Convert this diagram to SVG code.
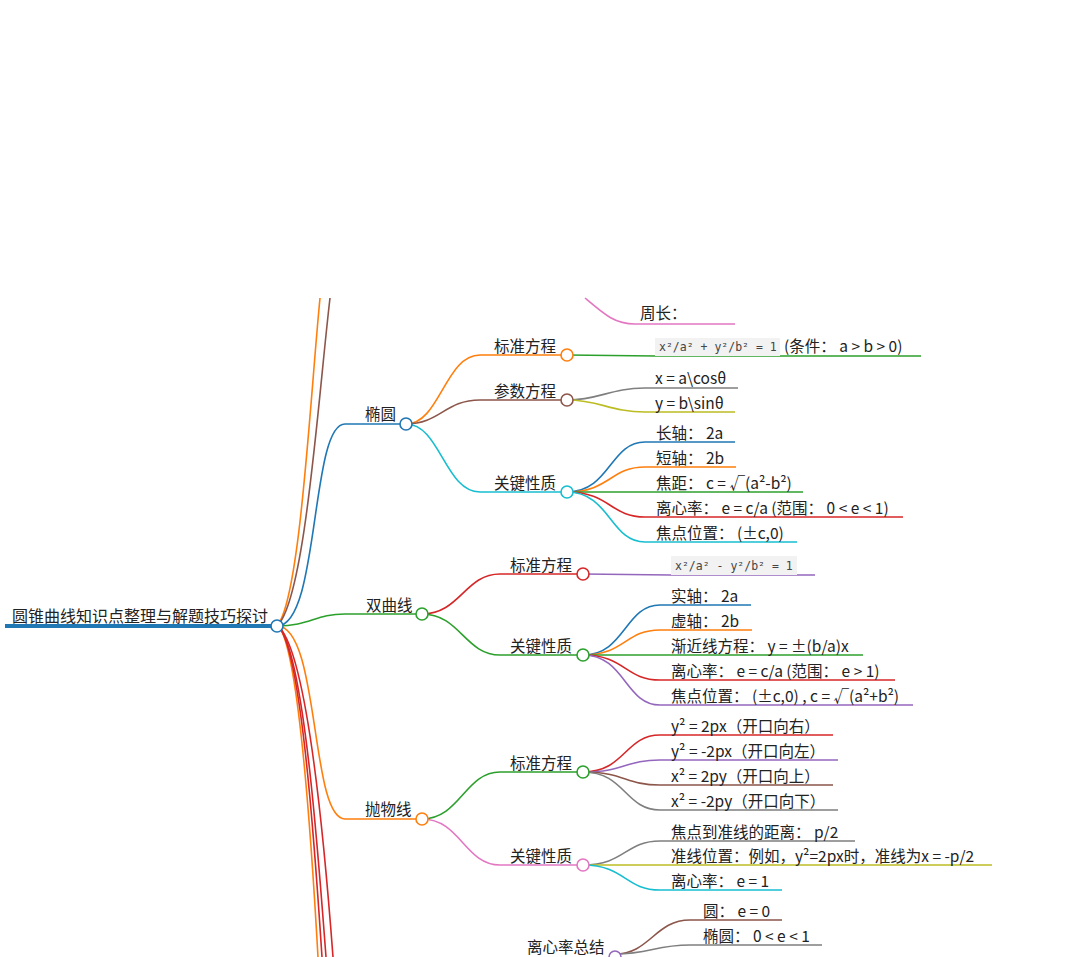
<svg xmlns="http://www.w3.org/2000/svg" width="1077" height="957" viewBox="0 0 1077 957">
<style>
text{font-family:"Noto Sans CJK SC","Noto Sans",sans-serif;font-size:15.5px;fill:#222}
.m{font-family:"DejaVu Sans Mono","Liberation Mono",monospace;font-size:11.5px;fill:#444}
path{fill:none;stroke-width:1.6}
circle{fill:#fff;stroke-width:1.6}
.cb{fill:#f2f2f2}
</style>
<rect width="1077" height="957" fill="#fff"/>
<g id="connectors">
<path d="M5 626H277" stroke="#1f77b4" style="stroke-width:4"/>
<path d="M277 626C300 600 310 400 320 298" stroke="#ff7f0e"/>
<path d="M277 626C305 600 318 400 330 298" stroke="#8c564b"/>
<path d="M585 298C605 315 615 324 635 324H735" stroke="#e377c2"/>
<path d="M277 626C320 626 310 424 345 424H406" stroke="#1f77b4"/>
<path d="M406 424C440 424 445 355 480 355H567" stroke="#ff7f0e"/>
<path d="M406 424C440 424 445 400 480 400H567" stroke="#8c564b"/>
<path d="M406 424C440 424 445 492 480 492H567" stroke="#17becf"/>
<path d="M567 355L655 356H921" stroke="#2ca02c"/>
<path d="M567 400C600 400 610 388 645 388H738" stroke="#7f7f7f"/>
<path d="M567 400C600 400 610 412 645 412H735" stroke="#bcbd22"/>
<path d="M567 492C610 492 610 442 645 442H735" stroke="#1f77b4"/>
<path d="M567 492C610 492 610 467 645 467H736" stroke="#ff7f0e"/>
<path d="M567 492H803" stroke="#2ca02c"/>
<path d="M567 492C610 492 610 517 645 517H903" stroke="#d62728"/>
<path d="M567 492C610 492 610 542 645 542H797" stroke="#17becf"/>
<path d="M277 626C310 626 315 614 345 614H422" stroke="#2ca02c"/>
<path d="M422 614C460 614 465 574 500 574H583" stroke="#d62728"/>
<path d="M422 614C460 614 465 655 500 655H583" stroke="#2ca02c"/>
<path d="M583 574L671 575H815" stroke="#9467bd"/>
<path d="M583 655C625 655 625 605 660 605H751" stroke="#1f77b4"/>
<path d="M583 655C625 655 625 630 660 630H752" stroke="#ff7f0e"/>
<path d="M583 655H863" stroke="#2ca02c"/>
<path d="M583 655C625 655 625 680 660 680H895" stroke="#d62728"/>
<path d="M583 655C625 655 625 705 660 705H913" stroke="#9467bd"/>
<path d="M277 626C320 626 310 819 345 819H422" stroke="#ff7f0e"/>
<path d="M422 819C460 819 465 772 500 772H583" stroke="#2ca02c"/>
<path d="M422 819C460 819 465 865 500 865H583" stroke="#e377c2"/>
<path d="M583 772C625 772 625 735 660 735H833" stroke="#d62728"/>
<path d="M583 772C625 772 625 760 660 760H838" stroke="#9467bd"/>
<path d="M583 772C625 772 625 785 660 785H833" stroke="#8c564b"/>
<path d="M583 772C625 772 625 810 660 810H838" stroke="#7f7f7f"/>
<path d="M583 865C625 865 625 841 660 841H855" stroke="#7f7f7f"/>
<path d="M583 865H992" stroke="#bcbd22"/>
<path d="M583 865C625 865 625 890 660 890H782" stroke="#17becf"/>
<path d="M615 954C650 954 655 920 690 920H782" stroke="#8c564b"/>
<path d="M615 954C650 954 655 945 690 945H822" stroke="#7f7f7f"/>
<path d="M280 628C300 660 312 850 318 957" stroke="#ff7f0e"/>
<path d="M280 628C302 660 315 850 322 957" stroke="#d62728"/>
<path d="M280 628C304 660 318 850 326 957" stroke="#d62728"/>
<path d="M280 628C308 660 325 850 333 957" stroke="#d62728"/>
</g>
<g id="root"><text x="12" y="622" style="font-size:16px">圆锥曲线知识点整理与解题技巧探讨</text><circle cx="277" cy="626" r="6" stroke="#1f77b4"/></g>
<g id="top-leaf"><text x="640" y="319">周长：</text></g>
<g id="ellipse"><text x="365" y="420">椭圆</text><circle cx="406" cy="424" r="6" stroke="#1f77b4"/></g>
<g id="e-std"><text x="494" y="352">标准方程</text><circle cx="567" cy="355" r="6" stroke="#ff7f0e"/></g>
<g id="e-std-l"><rect class="cb" x="655" y="338" width="125" height="18"/><text class="m" x="659" y="351">x²/a² + y²/b² = 1</text><text x="784" y="352">(条件： a &gt; b &gt; 0)</text></g>
<g id="e-par"><text x="494" y="397">参数方程</text><circle cx="567" cy="400" r="6" stroke="#8c564b"/></g>
<g id="e-par-1"><text x="655" y="384">x = a\cosθ</text></g>
<g id="e-par-2"><text x="655" y="409">y = b\sinθ</text></g>
<g id="e-key"><text x="494" y="489">关键性质</text><circle cx="567" cy="492" r="6" stroke="#17becf"/></g>
<g id="e-k1"><text x="656" y="439">长轴： 2a</text></g>
<g id="e-k2"><text x="656" y="464">短轴： 2b</text></g>
<g id="e-k3"><text x="656" y="489">焦距： c = √(a²-b²)</text></g>
<g id="e-k4"><text x="656" y="514">离心率： e = c/a (范围： 0 &lt; e &lt; 1)</text></g>
<g id="e-k5"><text x="656" y="539">焦点位置： (±c,0)</text></g>
<g id="hyper"><text x="366" y="611">双曲线</text><circle cx="422" cy="614" r="6" stroke="#2ca02c"/></g>
<g id="h-std"><text x="510" y="571">标准方程</text><circle cx="583" cy="574" r="6" stroke="#d62728"/></g>
<g id="h-std-l"><rect class="cb" x="671" y="556" width="126" height="19"/><text class="m" x="675" y="570">x²/a² - y²/b² = 1</text></g>
<g id="h-key"><text x="510" y="652">关键性质</text><circle cx="583" cy="655" r="6" stroke="#2ca02c"/></g>
<g id="h-k1"><text x="671" y="602">实轴： 2a</text></g>
<g id="h-k2"><text x="671" y="627">虚轴： 2b</text></g>
<g id="h-k3"><text x="671" y="652">渐近线方程： y = ±(b/a)x</text></g>
<g id="h-k4"><text x="671" y="677">离心率： e = c/a (范围： e &gt; 1)</text></g>
<g id="h-k5"><text x="671" y="702">焦点位置： (±c,0) , c = √(a²+b²)</text></g>
<g id="para"><text x="365" y="815">抛物线</text><circle cx="422" cy="819" r="6" stroke="#ff7f0e"/></g>
<g id="p-std"><text x="510" y="769">标准方程</text><circle cx="583" cy="772" r="6" stroke="#2ca02c"/></g>
<g id="p-s1"><text x="671" y="732">y² = 2px（开口向右）</text></g>
<g id="p-s2"><text x="671" y="757">y² = -2px（开口向左）</text></g>
<g id="p-s3"><text x="671" y="782">x² = 2py（开口向上）</text></g>
<g id="p-s4"><text x="671" y="807">x² = -2py（开口向下）</text></g>
<g id="p-key"><text x="510" y="862">关键性质</text><circle cx="583" cy="865" r="6" stroke="#e377c2"/></g>
<g id="p-k1"><text x="671" y="838">焦点到准线的距离： p/2</text></g>
<g id="p-k2"><text x="671" y="862">准线位置：例如，y²=2px时，准线为x = -p/2</text></g>
<g id="p-k3"><text x="671" y="887">离心率： e = 1</text></g>
<g id="ecc"><text x="527" y="953">离心率总结</text><circle cx="615" cy="957" r="6" stroke="#9467bd"/></g>
<g id="ecc-1"><text x="703" y="917">圆： e = 0</text></g>
<g id="ecc-2"><text x="703" y="942">椭圆： 0 &lt; e &lt; 1</text></g>
</svg>
